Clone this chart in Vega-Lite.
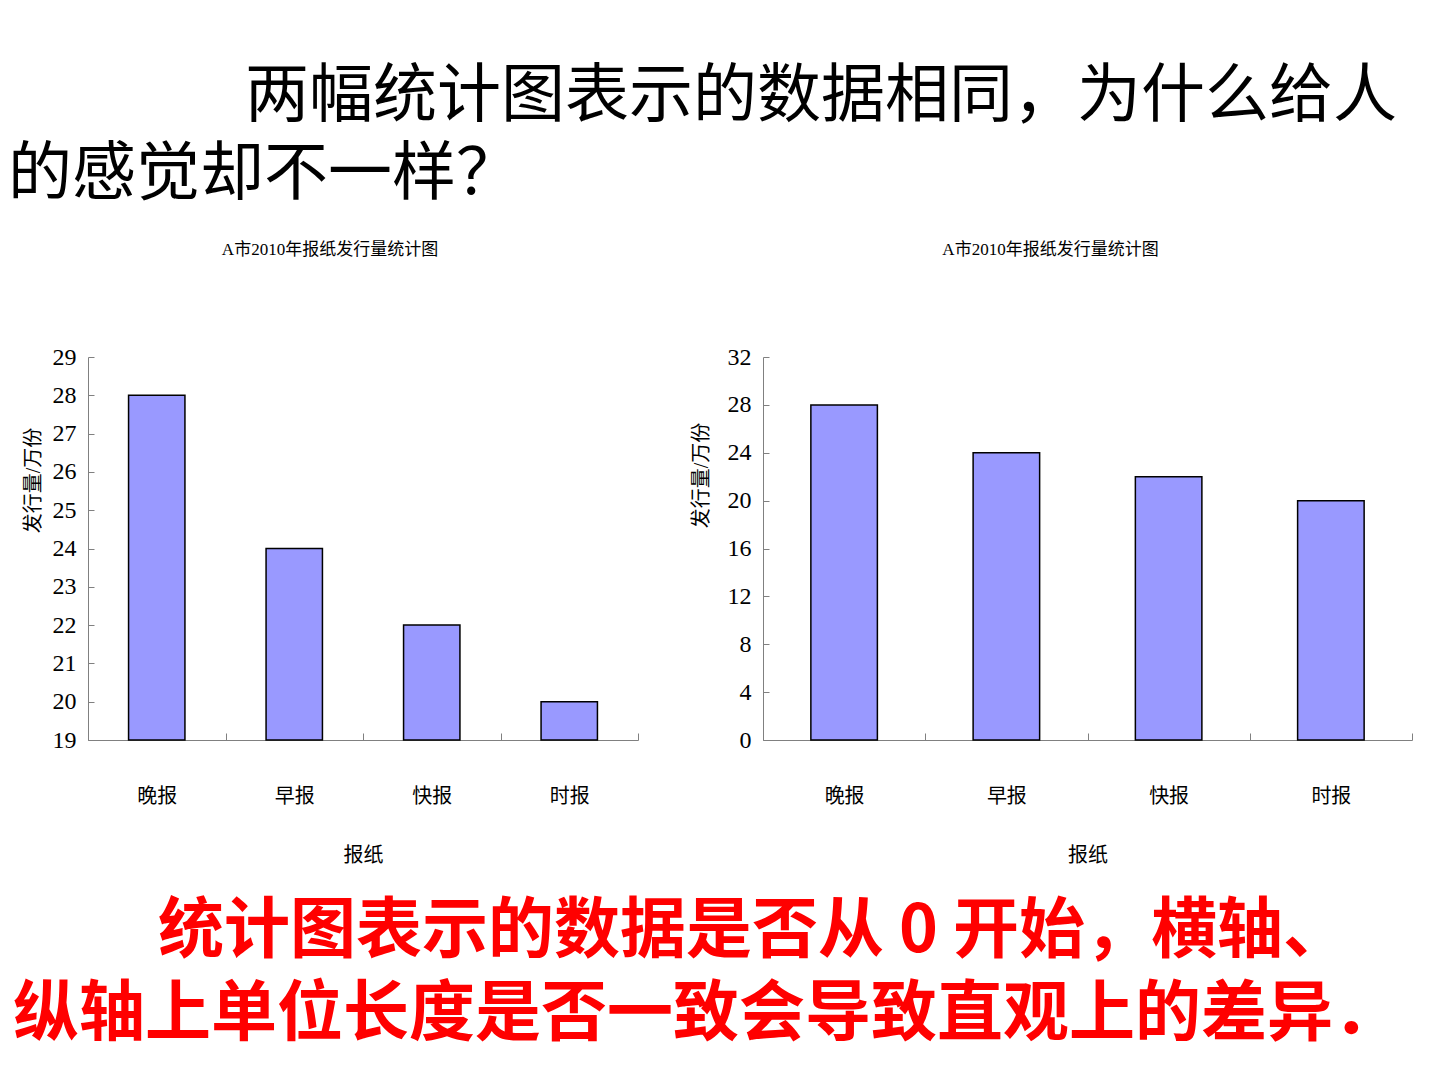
{
  "$schema": "https://vega.github.io/schema/vega-lite/v6.json",
  "background": "white",
  "padding": {"left": 8, "top": 65, "right": 10, "bottom": 5},
  "datasets": {
    "papers": [
      {"paper": "晚报", "amount": 28},
      {"paper": "早报", "amount": 24},
      {"paper": "快报", "amount": 22},
      {"paper": "时报", "amount": 20}
    ]
  },
  "title": {
    "text": "两幅统计图表示的数据相同，为什么给人",
    "anchor": "start", "frame": "bounds", "dx": 237, "offset": 14,
    "font": "Noto Sans CJK SC", "fontSize": 64, "fontWeight": "normal", "color": "black"
  },
  "vconcat": [
    {
      "title": {
        "text": "的感觉却不一样？",
        "anchor": "start", "frame": "bounds", "dx": -5, "offset": 34,
        "font": "Noto Sans CJK SC", "fontSize": 64, "fontWeight": "normal", "color": "black"
      },
      "vconcat": [
        {
          "title": {
            "text": "纵轴上单位长度是否一致会导致直观上的差异．",
            "orient": "bottom", "anchor": "start", "frame": "bounds", "dx": -10, "offset": 18,
            "font": "Noto Sans CJK SC", "fontSize": 66, "fontWeight": "bold", "color": "#FF0000"
          },
          "vconcat": [
            {
              "title": {
                "text": "统计图表示的数据是否从 0 开始，横轴、",
                "orient": "bottom", "anchor": "start", "frame": "bounds", "dx": 135, "offset": 35,
                "font": "Noto Sans CJK SC", "fontSize": 66, "fontWeight": "bold", "color": "#FF0000"
              },
              "spacing": 52,
              "hconcat": [
                {
                  "width": 550,
                  "height": 383,
                  "title": {"text": "A市2010年报纸发行量统计图", "offset": 86, "dx": -33},
                  "data": {"name": "papers"},
                  "mark": {"type": "bar", "fill": "#9999FF", "stroke": "black", "strokeWidth": 1.5, "width": {"band": 0.41}},
                  "encoding": {
                    "x": {
                      "field": "paper", "type": "nominal", "sort": null,
                      "scale": {"paddingInner": 0, "paddingOuter": 0},
                      "axis": {"title": "报纸", "labelAngle": 0, "tickBand": "extent", "tickSize": -7, "labelPadding": 53, "titlePadding": 39}
                    },
                    "y": {
                      "field": "amount", "type": "quantitative",
                      "scale": {"domain": [19, 29], "nice": false, "zero": false},
                      "axis": {"title": "发行量/万份", "values": [19, 20, 21, 22, 23, 24, 25, 26, 27, 28, 29], "tickSize": -6, "labelPadding": 18, "titlePadding": 9, "titleY": 123}
                    },
                    "y2": {"datum": 19}
                  }
                },
                {
                  "width": 649,
                  "height": 383,
                  "title": {"text": "A市2010年报纸发行量统计图", "offset": 86, "dx": -37},
                  "data": {"name": "papers"},
                  "mark": {"type": "bar", "fill": "#9999FF", "stroke": "black", "strokeWidth": 1.5, "width": {"band": 0.41}},
                  "encoding": {
                    "x": {
                      "field": "paper", "type": "nominal", "sort": null,
                      "scale": {"paddingInner": 0, "paddingOuter": 0},
                      "axis": {"title": "报纸", "labelAngle": 0, "tickBand": "extent", "tickSize": -7, "labelPadding": 53, "titlePadding": 39}
                    },
                    "y": {
                      "field": "amount", "type": "quantitative",
                      "scale": {"domain": [0, 32], "nice": false},
                      "axis": {"title": "发行量/万份", "values": [0, 4, 8, 12, 16, 20, 24, 28, 32], "tickSize": -6, "labelPadding": 18, "titlePadding": 16, "titleY": 118}
                    }
                  }
                }
              ]
            }
          ]
        }
      ]
    }
  ],
  "config": {
    "view": {"stroke": null},
    "font": "Liberation Serif, Noto Sans CJK SC",
    "title": {"font": "Liberation Serif, Noto Sans CJK SC", "fontSize": 17, "fontWeight": "normal", "color": "black", "anchor": "middle"},
    "axis": {
      "grid": false,
      "domainColor": "#808080",
      "tickColor": "#808080",
      "domainWidth": 1,
      "tickWidth": 1,
      "labelFont": "Liberation Serif, Noto Sans CJK SC",
      "labelColor": "black",
      "titleFont": "Liberation Serif, Noto Sans CJK SC",
      "titleColor": "black",
      "titleFontWeight": "normal",
      "titleFontSize": 20
    },
    "axisX": {"labelFontSize": 20},
    "axisY": {"labelFontSize": 24}
  }
}
